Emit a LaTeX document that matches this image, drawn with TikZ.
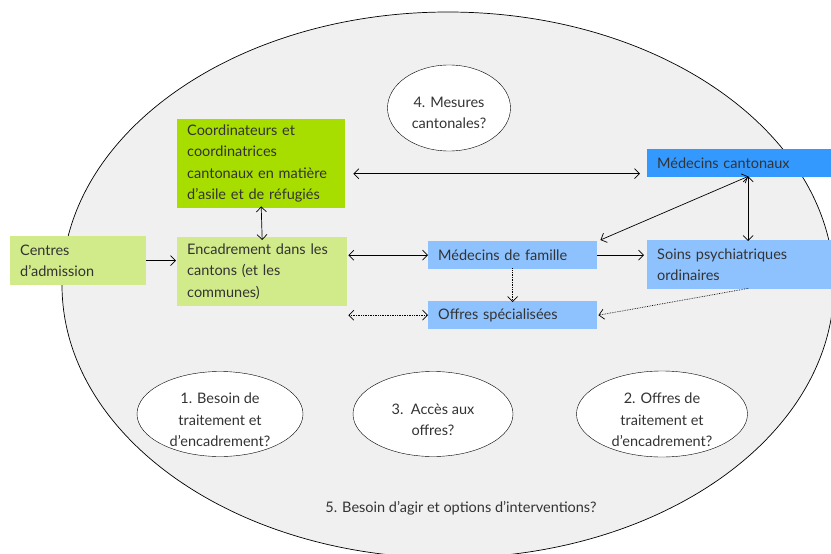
\documentclass[tikz,border=0pt]{standalone}
\usepackage{fontspec}
\setmainfont{Lato}
\usepackage{xcolor}
\definecolor{fondgris}{RGB}{240, 240, 240}
\definecolor{vertvif}{RGB}{168, 221, 0}
\definecolor{vertclair}{RGB}{210, 235, 138}
\definecolor{bleuclair}{RGB}{142, 194, 255}
\definecolor{bleufonce}{RGB}{51, 153, 255}
\definecolor{textegris}{RGB}{51, 51, 51}
\usetikzlibrary{arrows.meta, shapes.geometric}

\tikzset{
    boite/.style={anchor=north west, inner xsep=10pt, inner ysep=0pt, align=left,
        text=textegris, font=\fontsize{14.5}{21.5}\selectfont},
    bulle/.style={draw, ellipse, fill=white, inner sep=0pt},
    question/.style={align=center, text=textegris, font=\fontsize{14.5}{21.5}\selectfont},
    fleche/.style={-{Straight Barb[length=5pt, width=10pt]}, line width=0.7pt},
    double/.style={{Straight Barb[length=5pt, width=10pt]}-{Straight Barb[length=5pt, width=10pt]}, line width=0.7pt},
    pointille/.style={densely dotted, line width=0.7pt}
}

\begin{document}
\begin{tikzpicture}[x=1pt, y=-1pt]

\useasboundingbox (0, 0) rectangle (831, 554);
\clip (0, 0) rectangle (831, 554);

% === Cadre general ===
\draw[line width=0.7pt, fill=fondgris] (448, 285) ellipse [x radius=386pt, y radius=273pt];

% === Acteurs ===
\node[boite, fill=vertvif, text width=148pt, minimum height=89pt] (coord) at (177, 119)
    {Coordinateurs et\\coordinatrices\\cantonaux en matière\\d'asile et de réfugiés};
\node[boite, fill=vertclair, text width=116pt, minimum height=49pt] (centres) at (10, 236)
    {Centres\\d'admission};
\node[boite, fill=vertclair, text width=150pt, minimum height=69pt] (encad) at (177, 237)
    {Encadrement dans les\\cantons (et les\\communes)};
\node[boite, fill=bleuclair, text width=149pt, minimum height=28pt] (medfam) at (428, 241)
    {Médecins de famille};
\node[boite, fill=bleuclair, text width=149pt, minimum height=28pt] (offres) at (428, 301)
    {Offres spécialisées};
\node[boite, fill=bleufonce, text width=182pt, minimum height=28pt] (medcant) at (647, 149)
    {Médecins cantonaux};
\node[boite, fill=bleuclair, text width=182pt, minimum height=49pt] (soins) at (647, 240)
    {Soins psychiatriques\\ordinaires};

% === Questions ===
\node[bulle, minimum width=123pt, minimum height=86pt] (q4) at (449, 108) {};
\node[question] (t4) at ([yshift=-5pt]q4) {4. Mesures\\cantonales?};
\node[bulle, minimum width=166pt, minimum height=85pt] (q1) at (220, 414) {};
\node[question] (t1) at ([yshift=-6pt]q1) {1. Besoin de\\traitement et\\d'encadrement?};
\node[bulle, minimum width=160pt, minimum height=85pt] (q3) at (433, 414) {};
\node[question] (t3) at ([yshift=-6pt]q3) {3.\ \ Accès aux\\offres?};
\node[bulle, minimum width=171pt, minimum height=86pt] (q2) at (662, 414) {};
\node[question] (t2) at ([yshift=-6pt]q2) {2. Offres de\\traitement et\\d'encadrement?};
\node[question] (q5) at (461, 508) {5. Besoin d'agir et options d'interventions?};

% === Liens ===
\draw[double] ([shift={(8, 10)}]coord.east) coordinate (c1) -- ([xshift=-7pt]c1 -| medcant.west);
\draw[double] ([yshift=2pt]coord.south) -- ([yshift=-3pt]encad.north);
\draw[fleche] (centres.east) -- ([xshift=-1pt]centres.east -| encad.west);
\draw[double] ([xshift=1pt]medfam.west -| encad.east) -- (medfam.west);
\draw[double, pointille] ([xshift=1pt]offres.west -| encad.east) -- (offres.west);
\draw[fleche, pointille] ([yshift=1pt]medfam.south) -- ([yshift=-1pt]offres.north);
\draw[fleche] (medfam.east) -- ([xshift=-3pt]medfam.east -| soins.west);
\draw[double] ([yshift=1pt]medcant.south) -- ([shift={(3, -1)}]medfam.north east);
\draw[double] ([yshift=1pt]medcant.south) -- ([yshift=-1pt]soins.north);
\draw[fleche, pointille] ([yshift=1pt]soins.south) -- ([xshift=1pt]offres.east);

\end{tikzpicture}
\end{document}
